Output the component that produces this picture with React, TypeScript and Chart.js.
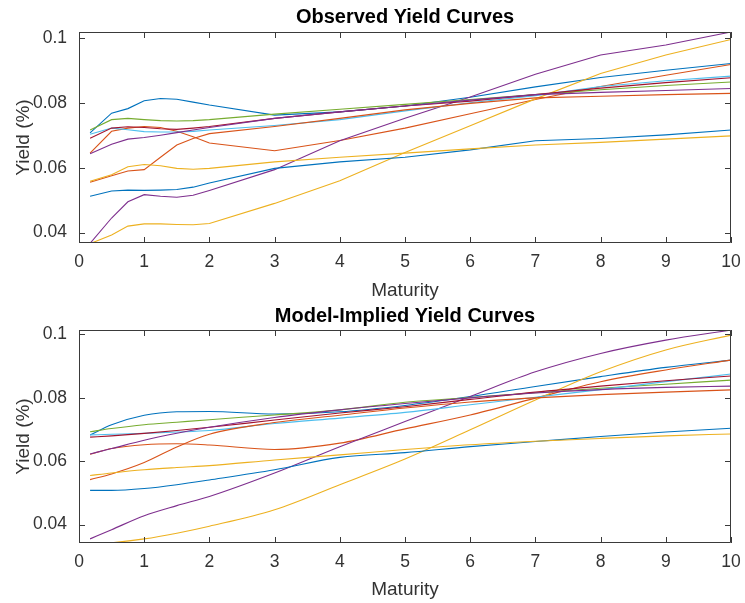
import React, { useEffect, useRef } from 'react';
import { Chart, registerables } from 'chart.js';

Chart.register(...registerables);

// ---------- data ----------
const obsMaturities = [0.17, 0.5, 0.75, 1, 1.25, 1.5, 1.75, 2, 3, 4, 5, 6, 7, 8, 9, 10];
const fitMaturities = [0.17, 0.5, 1, 1.5, 2, 3, 4, 5, 6, 7, 8, 9, 10];

const xTicks = [0, 1, 2, 3, 4, 5, 6, 7, 8, 9, 10];
const xTickLabels = ['0', '1', '2', '3', '4', '5', '6', '7', '8', '9', '10'];
const yTicks = [0.04, 0.06, 0.08, 0.1];
const yTickLabels = ['0.04', '0.06', '0.08', '0.1'];

const seriesColors = ['#0072BD', '#D95319', '#EDB120', '#7E2F8E', '#77AC30', '#4DBEEE', '#A2142F', '#0072BD', '#D95319', '#EDB120', '#7E2F8E'];

// observed yield curves
const obs1 = [0.0707, 0.0768, 0.0782, 0.0806, 0.0813, 0.0811, 0.0802, 0.0793, 0.0762, 0.0772, 0.0790, 0.0817, 0.0849, 0.0878, 0.0900, 0.0921];
const obs2 = [0.0645, 0.0712, 0.0722, 0.0727, 0.0724, 0.0712, 0.0695, 0.0676, 0.0652, 0.0684, 0.0722, 0.0766, 0.0810, 0.0850, 0.0885, 0.0918];
const obs3 = [0.0366, 0.0393, 0.0420, 0.0427, 0.0427, 0.0425, 0.0424, 0.0428, 0.0490, 0.0560, 0.0647, 0.0729, 0.0812, 0.0890, 0.0947, 0.0995];
const obs4 = [0.0367, 0.0445, 0.0495, 0.0517, 0.0512, 0.0509, 0.0515, 0.0530, 0.0594, 0.0683, 0.0752, 0.0818, 0.0888, 0.0947, 0.0978, 0.1018];
const obs5 = [0.0716, 0.0748, 0.0752, 0.0748, 0.0745, 0.0744, 0.0745, 0.0748, 0.0765, 0.0780, 0.0795, 0.0810, 0.0825, 0.0840, 0.0853, 0.0864];
const obs6 = [0.0703, 0.0722, 0.0717, 0.0711, 0.0710, 0.0710, 0.0712, 0.0716, 0.0730, 0.0748, 0.0775, 0.0800, 0.0822, 0.0850, 0.0868, 0.0882];
const obs7 = [0.0691, 0.0722, 0.0726, 0.0724, 0.0720, 0.0718, 0.0722, 0.0727, 0.0752, 0.0772, 0.0790, 0.0805, 0.0825, 0.0845, 0.0862, 0.0877];
const obs8 = [0.0512, 0.0528, 0.0531, 0.0530, 0.0531, 0.0533, 0.0540, 0.0553, 0.0598, 0.0618, 0.0632, 0.0655, 0.0683, 0.0690, 0.0701, 0.0716];
const obs9 = [0.0555, 0.0575, 0.0590, 0.0594, 0.0632, 0.0670, 0.0690, 0.0705, 0.0727, 0.0752, 0.0778, 0.0798, 0.0815, 0.0820, 0.0825, 0.0829];
const obs10 = [0.0558, 0.0578, 0.0603, 0.0610, 0.0606, 0.0598, 0.0595, 0.0598, 0.0618, 0.0632, 0.0645, 0.0658, 0.0670, 0.0678, 0.0688, 0.0698];
const obs11 = [0.0643, 0.0672, 0.0688, 0.0693, 0.0700, 0.0708, 0.0716, 0.0724, 0.0752, 0.0772, 0.0790, 0.0808, 0.0825, 0.0832, 0.0838, 0.0844];

// model-implied yield curves
const fit1 = [0.0683, 0.0715, 0.0745, 0.0756, 0.0757, 0.0749, 0.0756, 0.0776, 0.0804, 0.0836, 0.0867, 0.0896, 0.0919];
const fit2 = [0.0622, 0.0640, 0.0652, 0.0655, 0.0651, 0.0637, 0.0657, 0.0702, 0.0746, 0.0799, 0.0851, 0.0888, 0.0919];
const fit3 = [0.0339, 0.0343, 0.0355, 0.0373, 0.0395, 0.0447, 0.0526, 0.0607, 0.0699, 0.0793, 0.0882, 0.0951, 0.0998];
const fit4 = [0.0355, 0.0384, 0.0428, 0.0460, 0.0489, 0.0563, 0.0646, 0.0725, 0.0804, 0.0882, 0.0940, 0.0982, 0.1014];
const fit5 = [0.0693, 0.0703, 0.0715, 0.0723, 0.0731, 0.0746, 0.0762, 0.0786, 0.0801, 0.0816, 0.0830, 0.0843, 0.0856];
const fit6 = [0.0683, 0.0685, 0.0688, 0.0692, 0.0697, 0.0719, 0.0736, 0.0754, 0.0778, 0.0802, 0.0826, 0.0851, 0.0875];
const fit7 = [0.0676, 0.0680, 0.0688, 0.0697, 0.0707, 0.0730, 0.0752, 0.0772, 0.0795, 0.0818, 0.0837, 0.0854, 0.0869];
const fit8 = [0.0508, 0.0508, 0.0514, 0.0526, 0.0541, 0.0573, 0.0612, 0.0627, 0.0646, 0.0662, 0.0678, 0.0692, 0.0704];
const fit9 = [0.0542, 0.0560, 0.0596, 0.0645, 0.0685, 0.0722, 0.0745, 0.0768, 0.0787, 0.0800, 0.0810, 0.0818, 0.0825];
const fit10 = [0.0555, 0.0563, 0.0573, 0.0580, 0.0586, 0.0604, 0.0620, 0.0637, 0.0652, 0.0663, 0.0672, 0.0680, 0.0686];
const fit11 = [0.0623, 0.0640, 0.0666, 0.0688, 0.0707, 0.0738, 0.0762, 0.0782, 0.0800, 0.0815, 0.0826, 0.0833, 0.0837];

const observedSeries = [obs1, obs2, obs3, obs4, obs5, obs6, obs7, obs8, obs9, obs10, obs11];
const fittedSeries = [fit1, fit2, fit3, fit4, fit5, fit6, fit7, fit8, fit9, fit10, fit11];

const FONT = "'Liberation Sans', Arial, Helvetica, sans-serif";
const TEXT_COLOR = '#333333';
const AXIS_COLOR = '#3a3a3a';

const framePlugin = {
  id: 'frame',
  afterDraw(chart: any, _args: any, opts: any) {
    const { ctx, chartArea } = chart;
    const { left, right, top, bottom } = chartArea;
    const xs = chart.scales.x;
    const ys = chart.scales.y;
    ctx.save();
    ctx.strokeStyle = AXIS_COLOR;
    ctx.lineWidth = 1;
    ctx.beginPath();
    ctx.rect(Math.round(left) + 0.5, Math.round(top) + 0.5, Math.round(right - left) - 1, Math.round(bottom - top) - 1);
    ctx.stroke();
    const tl = 6;
    ctx.beginPath();
    xTicks.forEach((v) => {
      const px = Math.round(xs.getPixelForValue(v)) + 0.5;
      ctx.moveTo(px, bottom);
      ctx.lineTo(px, bottom - tl);
      ctx.moveTo(px, top);
      ctx.lineTo(px, top + tl);
    });
    yTicks.forEach((v) => {
      const py = Math.round(ys.getPixelForValue(v)) + 0.5;
      ctx.moveTo(left, py);
      ctx.lineTo(left + tl, py);
      ctx.moveTo(right, py);
      ctx.lineTo(right - tl, py);
    });
    ctx.stroke();
    ctx.fillStyle = '#000';
    ctx.font = `bold 20px ${FONT}`;
    ctx.textAlign = 'center';
    ctx.textBaseline = 'middle';
    ctx.fillText(opts.text, (left + right) / 2, opts.y);
    ctx.restore();
  },
};

function makeConfig(
  maturities: number[],
  series: number[][],
  yMin: number,
  yMax: number,
  title: string,
  titleY: number,
  topPad: number,
  xAxisHeight: number,
  xTitleBottomPad: number,
  smooth: boolean
) {
  return {
    type: 'line' as const,
    data: {
      datasets: series.map((vals, i) => ({
        label: `Curve ${i + 1}`,
        data: vals.map((v, j) => ({ x: maturities[j], y: v })),
        borderColor: seriesColors[i],
        backgroundColor: seriesColors[i],
        borderWidth: 1.1,
        pointRadius: 0,
        fill: false,
        tension: 0,
        cubicInterpolationMode: smooth ? ('monotone' as const) : ('default' as const),
        order: series.length - i,
      })),
    },
    options: {
      responsive: false,
      animation: false as const,
      devicePixelRatio: 1,
      layout: { padding: { top: topPad, right: 14, left: 0, bottom: 0 } },
      plugins: {
        legend: { display: false },
        tooltip: { enabled: false },
        title: { display: false },
        frame: { text: title, y: titleY },
      },
      scales: {
        x: {
          type: 'linear' as const,
          min: 0,
          max: 10,
          afterBuildTicks: (s: any) => {
            s.ticks = xTicks.map((v) => ({ value: v }));
          },
          afterFit: (s: any) => {
            s.height = xAxisHeight;
            s.paddingLeft = 0;
            s.paddingRight = 0;
          },
          grid: { display: false, drawTicks: false },
          border: { display: false },
          ticks: {
            autoSkip: false,
            maxRotation: 0,
            padding: 9,
            color: TEXT_COLOR,
            font: { family: FONT, size: 17.5 },
            callback: (_v: any, i: number) => xTickLabels[i],
          },
          title: {
            display: true,
            text: 'Maturity',
            color: TEXT_COLOR,
            font: { family: FONT, size: 19 },
            padding: { top: 0, bottom: xTitleBottomPad },
          },
        },
        y: {
          type: 'linear' as const,
          min: yMin,
          max: yMax,
          afterBuildTicks: (s: any) => {
            s.ticks = yTicks.map((v) => ({ value: v }));
          },
          afterFit: (s: any) => {
            s.width = 79;
            s.paddingTop = 0;
            s.paddingBottom = 0;
          },
          grid: { display: false, drawTicks: false },
          border: { display: false },
          ticks: {
            autoSkip: false,
            padding: 12,
            color: TEXT_COLOR,
            font: { family: FONT, size: 17.5 },
            callback: (_v: any, i: number) => yTickLabels[i],
          },
          title: {
            display: true,
            text: 'Yield (%)',
            color: TEXT_COLOR,
            font: { family: FONT, size: 19 },
            padding: { top: 12, bottom: 0 },
          },
        },
      },
    },
    plugins: [framePlugin],
  };
}

function ChartCanvas(props: { config: any; top: number; height: number }) {
  const ref = useRef<HTMLCanvasElement | null>(null);
  useEffect(() => {
    if (!ref.current) return;
    const chart = new Chart(ref.current, props.config);
    return () => chart.destroy();
  }, []);
  return (
    <canvas
      ref={ref}
      width={745}
      height={props.height}
      style={{ position: 'absolute', left: 0, top: props.top, width: 745, height: props.height }}
    />
  );
}

export default function App() {
  const topConfig = makeConfig(obsMaturities, observedSeries, 0.0368, 0.1018, 'Observed Yield Curves', 17, 32, 57, -2, false);
  const bottomConfig = makeConfig(fitMaturities, fittedSeries, 0.0342, 0.1014, 'Model-Implied Yield Curves', 16, 30, 60, 2, true);
  return (
    <div style={{ position: 'absolute', left: 0, top: 0, width: 745, height: 603, background: '#fff', overflow: 'hidden' }}>
      <ChartCanvas config={topConfig} top={0} height={300} />
      <ChartCanvas config={bottomConfig} top={300} height={303} />
    </div>
  );
}
